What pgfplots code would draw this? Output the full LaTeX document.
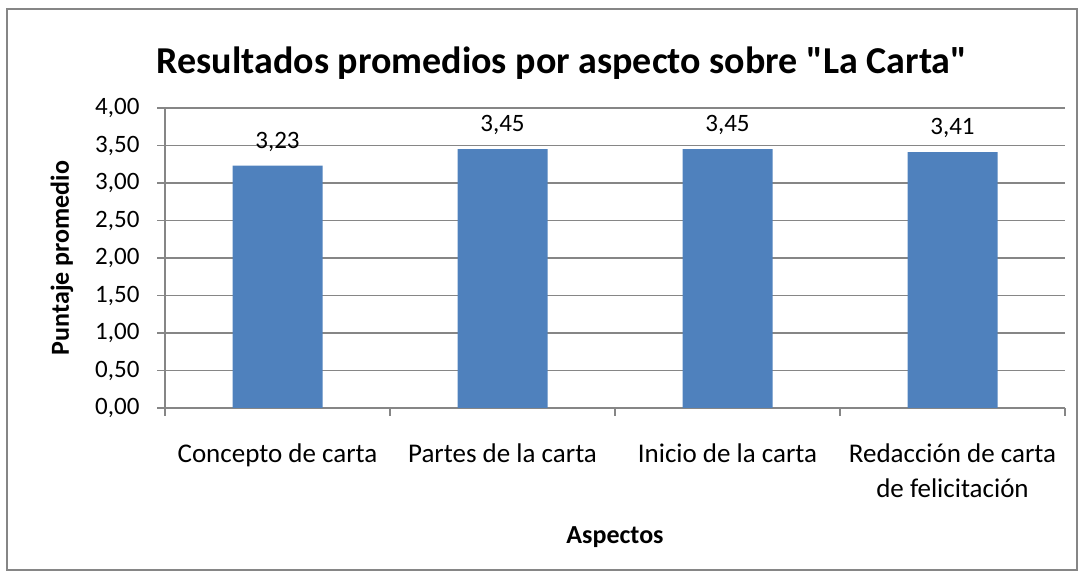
\documentclass[border=0pt]{standalone}
\usepackage{pgfplots}
\pgfplotsset{compat=1.18}
\usepackage{fontspec}
\setmainfont{Carlito}[Ligatures=TeXOff]
\definecolor{barBlue}{HTML}{4F81BD}
\definecolor{axGray}{HTML}{868686}
\begin{document}
\begin{tikzpicture}
\path[use as bounding box] (0,0) rectangle (1082bp,577bp);
\draw[axGray, line width=1.5bp] (7bp,7bp) rectangle (1077bp,568bp);
\begin{axis}[
    at={(165bp,169bp)}, anchor=origin,
    scale only axis, width=900bp, height=300bp,
    xmin=0.5, xmax=4.5, ymin=0, ymax=4,
    axis x line*=bottom, axis y line*=left,
    axis line style={axGray, line width=1.5bp},
    ytick={0,0.5,...,4},
    ymajorgrids, grid style={axGray, line width=1.2bp},
    xtick={0.5,1.5,2.5,3.5,4.5}, xticklabels={},
    extra x ticks={1,2,3,4},
    extra x tick labels={Concepto de carta,Partes de la carta,Inicio de la carta,{Redacción de carta\\de felicitación}},
    extra x tick style={major tick length=0pt, grid=none,
        xticklabel style={align=center, yshift=-32bp, font=\fontsize{27bp}{35bp}\selectfont}},
    tick align=outside, major tick length=8bp,
    tick style={axGray, line width=1.2bp},
    yticklabel style={font=\fontsize{25bp}{30bp}\selectfont, xshift=-14bp},
    /pgf/number format/.cd, fixed, fixed zerofill, precision=2, use comma, assume math mode=true,
    /pgfplots/.cd,
    ybar, bar width=90bp,
    nodes near coords,
    nodes near coords style={font=\fontsize{25bp}{30bp}\selectfont, yshift=11bp,
        /pgf/number format/.cd, fixed, fixed zerofill, precision=2, use comma, assume math mode=true},
]
\addplot[draw=none, fill=barBlue] coordinates {(1,3.23) (2,3.45) (3,3.45) (4,3.41)};
\end{axis}
\node[font=\fontsize{38bp}{44bp}\selectfont\bfseries] at (562bp,514bp) {Resultados promedios por aspecto sobre "La Carta"};
\node[font=\fontsize{26bp}{30bp}\selectfont\bfseries, rotate=90] at (62bp,319bp) {Puntaje promedio};
\node[font=\fontsize{26bp}{30bp}\selectfont\bfseries] at (615bp,40bp) {Aspectos};
\end{tikzpicture}
\end{document}
